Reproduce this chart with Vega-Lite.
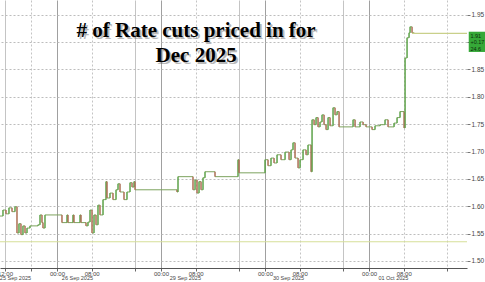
{
  "$schema": "https://vega.github.io/schema/vega-lite/v6.json",
  "width": 467,
  "height": 268,
  "autosize": {"type": "none"},
  "padding": {"left": 0, "top": 0, "right": 18, "bottom": 14},
  "background": "white",
  "config": {"view": {"stroke": null}, "axis": {"labelFont": "Liberation Sans", "labelColor": "#444"}},
  "datasets": {
    "s": [
      {"t": 10.85, "v": 1.582}, {"t": 11.54, "v": 1.593}, {"t": 12.23, "v": 1.586}, {"t": 12.92, "v": 1.597},
      {"t": 13.62, "v": 1.590}, {"t": 14.31, "v": 1.599}, {"t": 14.77, "v": 1.551}, {"t": 15.23, "v": 1.568},
      {"t": 15.69, "v": 1.548}, {"t": 16.15, "v": 1.564}, {"t": 16.62, "v": 1.551}, {"t": 17.08, "v": 1.560},
      {"t": 17.77, "v": 1.564}, {"t": 19.62, "v": 1.566}, {"t": 20.08, "v": 1.584}, {"t": 20.54, "v": 1.570},
      {"t": 20.77, "v": 1.560}, {"t": 21.23, "v": 1.584}, {"t": 25.15, "v": 1.570}, {"t": 26.31, "v": 1.584},
      {"t": 26.54, "v": 1.570}, {"t": 27.69, "v": 1.584}, {"t": 27.92, "v": 1.570}, {"t": 29.31, "v": 1.584},
      {"t": 29.54, "v": 1.570}, {"t": 30.69, "v": 1.564}, {"t": 31.15, "v": 1.571}, {"t": 31.62, "v": 1.593},
      {"t": 32.08, "v": 1.551}, {"t": 32.54, "v": 1.584}, {"t": 33.0, "v": 1.566}, {"t": 33.46, "v": 1.602},
      {"t": 33.92, "v": 1.584}, {"t": 34.62, "v": 1.612}, {"t": 35.31, "v": 1.645}, {"t": 35.54, "v": 1.615},
      {"t": 36.23, "v": 1.624}, {"t": 36.92, "v": 1.612}, {"t": 37.62, "v": 1.630}, {"t": 38.08, "v": 1.641},
      {"t": 38.54, "v": 1.626}, {"t": 39.46, "v": 1.612}, {"t": 40.15, "v": 1.626}, {"t": 40.85, "v": 1.643},
      {"t": 41.31, "v": 1.635}, {"t": 41.77, "v": 1.645}, {"t": 42.0, "v": 1.630}, {"t": 51.69, "v": 1.626},
      {"t": 51.92, "v": 1.654}, {"t": 55.38, "v": 1.630}, {"t": 55.85, "v": 1.648}, {"t": 56.31, "v": 1.624},
      {"t": 56.77, "v": 1.645}, {"t": 57.23, "v": 1.630}, {"t": 57.69, "v": 1.652}, {"t": 58.15, "v": 1.663},
      {"t": 60.46, "v": 1.654}, {"t": 65.77, "v": 1.685}, {"t": 66.0, "v": 1.661}, {"t": 72.0, "v": 1.685},
      {"t": 72.69, "v": 1.674}, {"t": 73.38, "v": 1.688}, {"t": 74.08, "v": 1.679}, {"t": 74.77, "v": 1.694},
      {"t": 75.69, "v": 1.685}, {"t": 76.62, "v": 1.699}, {"t": 77.54, "v": 1.685}, {"t": 78.0, "v": 1.703},
      {"t": 78.46, "v": 1.716}, {"t": 78.92, "v": 1.688}, {"t": 79.62, "v": 1.670}, {"t": 80.08, "v": 1.685},
      {"t": 80.77, "v": 1.703}, {"t": 81.46, "v": 1.694}, {"t": 81.92, "v": 1.712}, {"t": 82.62, "v": 1.663},
      {"t": 82.85, "v": 1.758}, {"t": 83.31, "v": 1.749}, {"t": 83.77, "v": 1.762}, {"t": 84.23, "v": 1.745},
      {"t": 84.69, "v": 1.754}, {"t": 85.15, "v": 1.767}, {"t": 85.62, "v": 1.749}, {"t": 86.08, "v": 1.740},
      {"t": 86.54, "v": 1.762}, {"t": 87.0, "v": 1.747}, {"t": 87.69, "v": 1.780}, {"t": 88.15, "v": 1.767},
      {"t": 88.62, "v": 1.773}, {"t": 89.08, "v": 1.745}, {"t": 92.31, "v": 1.758}, {"t": 92.77, "v": 1.745},
      {"t": 93.92, "v": 1.754}, {"t": 94.62, "v": 1.749}, {"t": 95.31, "v": 1.745}, {"t": 96.69, "v": 1.740},
      {"t": 97.38, "v": 1.747}, {"t": 98.54, "v": 1.749}, {"t": 99.69, "v": 1.758}, {"t": 100.38, "v": 1.745},
      {"t": 101.77, "v": 1.752}, {"t": 102.46, "v": 1.762}, {"t": 103.15, "v": 1.773}, {"t": 104.08, "v": 1.743},
      {"t": 104.31, "v": 1.871}, {"t": 104.77, "v": 1.908}, {"t": 105.23, "v": 1.917}, {"t": 105.46, "v": 1.928},
      {"t": 105.92, "v": 1.917}, {"t": 106.38, "v": 1.915}
    ],
    "ref": [{"v": 1.535}],
    "last": [{"t": 105.92, "t2": 118.6, "v": 1.916}],
    "tag": [{"t": 119.0, "t2": 125.0, "v": 1.882, "v2": 1.919}],
    "tagtext": [
      {"t": 119.4, "v": 1.912, "label": "1.91"},
      {"t": 119.4, "v": 1.900, "label": "+0.17"},
      {"t": 119.4, "v": 1.888, "label": "24.6"}
    ],
    "title": [
      {"t": 56.1, "v": 1.9097, "label": "# of Rate cuts priced in for"},
      {"t": 56.1, "v": 1.864, "label": "Dec 2025"}
    ]
  },
  "resolve": {"axis": {"x": "independent"}},
  "layer": [
    {
      "data": {"name": "s"},
      "mark": {"type": "line", "interpolate": "step-after", "color": "#7da35e", "strokeWidth": 1},
      "encoding": {
        "x": {
          "field": "t", "type": "quantitative",
          "scale": {"domain": [10.85, 118.6], "nice": false, "zero": false},
          "axis": {
            "orient": "bottom", "title": null,
            "values": [12, 18, 24, 32, 42, 48, 56, 66, 72, 80, 90, 96, 104, 114],
            "labelExpr": "datum.value % 24 == 0 ? '00:00' : datum.value % 24 == 8 ? '08:00' : datum.value % 24 == 12 ? '12:00' : ''",
            "grid": true,
            "gridDash": {"condition": {"test": "datum.value % 24 == 8 || datum.value == 18 || datum.value == 114", "value": [2, 2]}, "value": []},
            "gridColor": {"condition": {"test": "datum.value % 24 == 0", "value": "#a0a0a0"}, "value": "#c4c4c4"},
            "tickSize": 3, "tickColor": "#666", "domainColor": "#555",
            "labelFontSize": 6, "labelPadding": -1, "labelFlush": false, "labelOverlap": false
          }
        },
        "y": {
          "field": "v", "type": "quantitative",
          "scale": {"domain": [1.487, 1.977], "nice": false, "zero": false},
          "axis": {
            "orient": "right", "title": null,
            "values": [1.5, 1.55, 1.6, 1.65, 1.7, 1.75, 1.8, 1.85, 1.9, 1.95],
            "format": ".2f", "grid": true, "gridDash": [2, 2], "gridColor": "#bdbdbd",
            "tickSize": 3, "tickColor": "#777", "domain": false,
            "labelFontSize": 6.5, "labelPadding": 1, "labelOverlap": false, "labelFlush": false
          }
        }
      }
    },
    {
      "data": {"name": "s"},
      "transform": [
        {"window": [{"op": "lag", "field": "v", "as": "prev"}], "sort": [{"field": "t", "order": "ascending"}]},
        {"filter": "datum.prev != null"}
      ],
      "mark": {"type": "rule", "strokeWidth": 1},
      "encoding": {
        "x": {"field": "t", "type": "quantitative", "axis": null},
        "y": {
          "field": "prev", "type": "quantitative",
          "axis": {
            "orient": "right", "title": null,
            "values": [1.5, 1.55, 1.6, 1.65, 1.7, 1.75, 1.8, 1.85, 1.9, 1.95],
            "format": ".2f", "grid": true, "gridDash": [2, 2], "gridColor": "#bdbdbd",
            "tickSize": 3, "tickColor": "#777", "domain": false,
            "labelFontSize": 6.5, "labelPadding": 1, "labelOverlap": false, "labelFlush": false
          }
        },
        "y2": {"field": "v"},
        "color": {"condition": {"test": "datum.v < datum.prev", "value": "#c4544f"}, "value": "#4ea23e"}
      }
    },
    {
      "data": {"name": "ref"},
      "mark": {"type": "rule", "color": "#d6df98", "strokeWidth": 1.2},
      "encoding": {
        "y": {
          "field": "v", "type": "quantitative",
          "axis": {
            "orient": "right", "title": null,
            "values": [1.5, 1.55, 1.6, 1.65, 1.7, 1.75, 1.8, 1.85, 1.9, 1.95],
            "format": ".2f", "grid": true, "gridDash": [2, 2], "gridColor": "#bdbdbd",
            "tickSize": 3, "tickColor": "#777", "domain": false,
            "labelFontSize": 6.5, "labelPadding": 1, "labelOverlap": false, "labelFlush": false
          }
        }
      }
    },
    {
      "data": {"name": "last"},
      "mark": {"type": "rule", "color": "#c9d08a", "strokeWidth": 1.2},
      "encoding": {
        "x": {
          "field": "t", "type": "quantitative",
          "axis": {
            "orient": "bottom", "title": null, "offset": 7,
            "values": [14.3, 28.6, 53.5, 77.3, 101.5],
            "labelExpr": "datum.value < 20 ? '25 Sep 2025' : datum.value < 40 ? '26 Sep 2025' : datum.value < 60 ? '29 Sep 2025' : datum.value < 90 ? '30 Sep 2025' : '01 Oct 2025'",
            "ticks": false, "domain": false, "grid": false,
            "labelFontSize": 5.5, "labelPadding": 0, "labelFlush": false, "labelOverlap": false
          }
        },
        "x2": {"field": "t2"},
        "y": {
          "field": "v", "type": "quantitative",
          "axis": {
            "orient": "right", "title": null,
            "values": [1.5, 1.55, 1.6, 1.65, 1.7, 1.75, 1.8, 1.85, 1.9, 1.95],
            "format": ".2f", "grid": true, "gridDash": [2, 2], "gridColor": "#bdbdbd",
            "tickSize": 3, "tickColor": "#777", "domain": false,
            "labelFontSize": 6.5, "labelPadding": 1, "labelOverlap": false, "labelFlush": false
          }
        }
      }
    },
    {
      "data": {"name": "tag"},
      "mark": {"type": "rect", "color": "#36a838"},
      "encoding": {
        "x": {"field": "t", "type": "quantitative", "axis": null},
        "x2": {"field": "t2"},
        "y": {
          "field": "v", "type": "quantitative",
          "axis": {
            "orient": "right", "title": null,
            "values": [1.5, 1.55, 1.6, 1.65, 1.7, 1.75, 1.8, 1.85, 1.9, 1.95],
            "format": ".2f", "grid": true, "gridDash": [2, 2], "gridColor": "#bdbdbd",
            "tickSize": 3, "tickColor": "#777", "domain": false,
            "labelFontSize": 6.5, "labelPadding": 1, "labelOverlap": false, "labelFlush": false
          }
        },
        "y2": {"field": "v2"}
      }
    },
    {
      "data": {"name": "tagtext"},
      "mark": {"type": "text", "align": "left", "baseline": "middle", "fontSize": 5.5, "font": "Liberation Sans", "color": "#0d2e0d"},
      "encoding": {
        "x": {"field": "t", "type": "quantitative", "axis": null},
        "y": {
          "field": "v", "type": "quantitative",
          "axis": {
            "orient": "right", "title": null,
            "values": [1.5, 1.55, 1.6, 1.65, 1.7, 1.75, 1.8, 1.85, 1.9, 1.95],
            "format": ".2f", "grid": true, "gridDash": [2, 2], "gridColor": "#bdbdbd",
            "tickSize": 3, "tickColor": "#777", "domain": false,
            "labelFontSize": 6.5, "labelPadding": 1, "labelOverlap": false, "labelFlush": false
          }
        },
        "text": {"field": "label"}
      }
    },
    {
      "data": {"name": "title"},
      "mark": {"type": "text", "align": "center", "baseline": "alphabetic", "font": "Liberation Serif", "fontWeight": "bold", "fontSize": 21, "color": "#666", "opacity": 0.45, "dx": 2, "dy": 2},
      "encoding": {
        "x": {"field": "t", "type": "quantitative", "axis": null},
        "y": {
          "field": "v", "type": "quantitative",
          "axis": {
            "orient": "right", "title": null,
            "values": [1.5, 1.55, 1.6, 1.65, 1.7, 1.75, 1.8, 1.85, 1.9, 1.95],
            "format": ".2f", "grid": true, "gridDash": [2, 2], "gridColor": "#bdbdbd",
            "tickSize": 3, "tickColor": "#777", "domain": false,
            "labelFontSize": 6.5, "labelPadding": 1, "labelOverlap": false, "labelFlush": false
          }
        },
        "text": {"field": "label"}
      }
    },
    {
      "data": {"name": "title"},
      "mark": {"type": "text", "align": "center", "baseline": "alphabetic", "font": "Liberation Serif", "fontWeight": "bold", "fontSize": 21, "color": "#000"},
      "encoding": {
        "x": {"field": "t", "type": "quantitative", "axis": null},
        "y": {
          "field": "v", "type": "quantitative",
          "axis": {
            "orient": "right", "title": null,
            "values": [1.5, 1.55, 1.6, 1.65, 1.7, 1.75, 1.8, 1.85, 1.9, 1.95],
            "format": ".2f", "grid": true, "gridDash": [2, 2], "gridColor": "#bdbdbd",
            "tickSize": 3, "tickColor": "#777", "domain": false,
            "labelFontSize": 6.5, "labelPadding": 1, "labelOverlap": false, "labelFlush": false
          }
        },
        "text": {"field": "label"}
      }
    }
  ]
}
